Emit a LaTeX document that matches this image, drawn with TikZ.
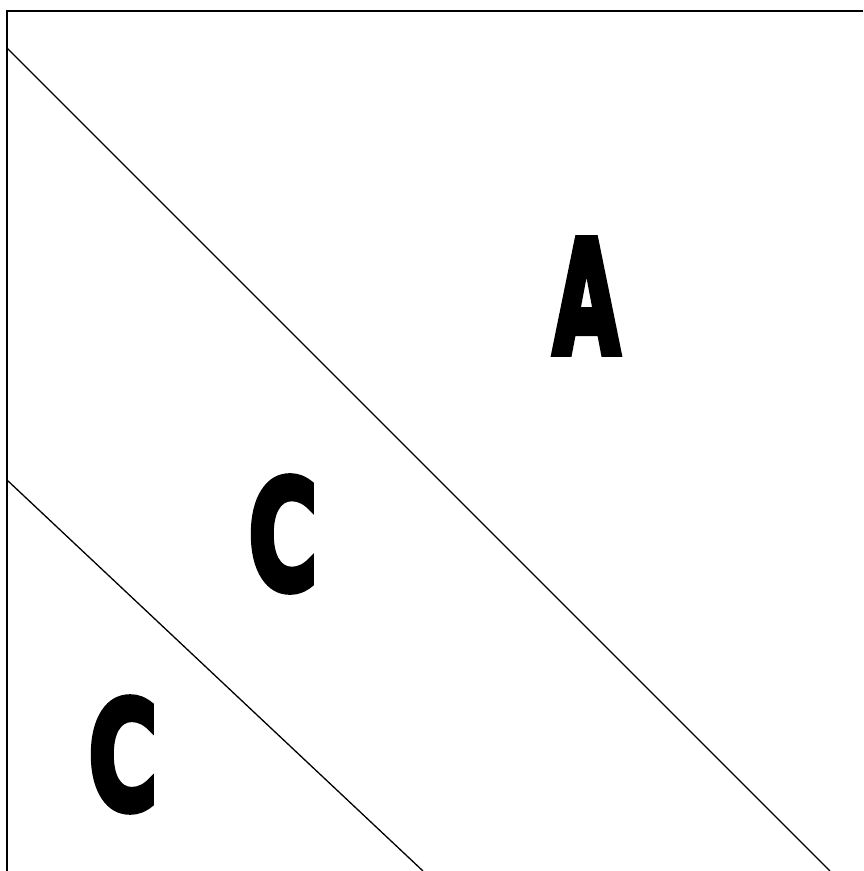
\documentclass[tikz,border=0pt]{standalone}
\usepackage{fontspec}
\setmainfont{DejaVu Sans}
\usepackage{graphicx}
\newcommand{\heavytext}[1]{\special{pdf:literal direct 2 Tr 0.5 w}#1\special{pdf:literal direct 0 Tr}}
\begin{document}
\begin{tikzpicture}[x=1pt,y=-1pt,
  frame/.style={line width=2pt},
  diag/.style={line width=1.3pt},
  letter/.style={inner sep=0pt, outer sep=0pt, font=\bfseries}]
\useasboundingbox (0,0) rectangle (863,871);
\coordinate (fl) at (7,871);
\coordinate (ft) at (7,11);
\coordinate (fr) at (863,11);
\draw[frame] (fl) -- (ft) -- (fr);
\coordinate (d1a) at (7,48);
\coordinate (d1b) at (830,871);
\coordinate (d2a) at (7,480);
\coordinate (d2b) at (423,871);
\draw[diag] (d1a) -- (d1b);
\draw[diag] (d2a) -- (d2b);
\node[letter] (A) at (586.5,296) {\resizebox{66.5pt}{114pt}{\heavytext{A}}};
\node[letter] (C1) at (283,534) {\resizebox{69pt}{112pt}{\heavytext{C}}};
\node[letter] (C2) at (123,754.5) {\resizebox{69pt}{111pt}{\heavytext{C}}};
\end{tikzpicture}
\end{document}
